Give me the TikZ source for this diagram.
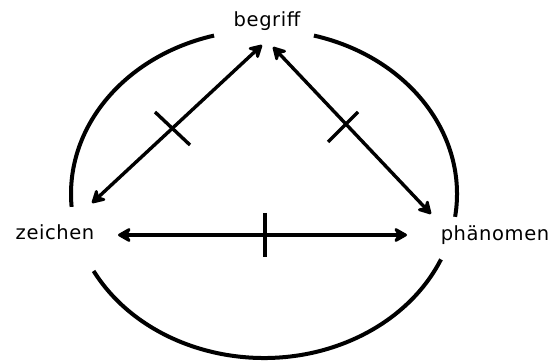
\documentclass[tikz,border=0pt]{standalone}
\usepackage{fontspec}
\setmainfont{DejaVu Sans}
\newfontfamily\lblfont[LetterSpace=3]{DejaVu Sans}
\usetikzlibrary{arrows.meta,calc}
\begin{document}
\begin{tikzpicture}[x=1pt,y=1pt,
  lbl/.style={font=\lblfont\fontsize{19.5}{22}\selectfont, text=black, inner sep=1pt},
  ring/.style={line width=4pt, line cap=butt},
  arr/.style={line width=3.4pt, {Stealth[length=16pt,width=18pt,round]}-{Stealth[length=16pt,width=18pt,round]}},
  tick/.style={line width=3.4pt}]
\useasboundingbox (0,0) rectangle (555,361);
% labels
\node[lbl] (begriff) at (267,340) {begriff};
\node[lbl] (zeichen) at (55,129) {zeichen};
\node[lbl] (phaenomen) at (495,126) {phänomen};
% ellipse arcs (centre 264,167; radii 193,164)
\coordinate (c) at (264,167);
\draw[ring] ($(c)+({193*cos(75)},{164*sin(75)})$) arc[start angle=75, end angle=-8, x radius=193, y radius=164];
\draw[ring] ($(c)+({193*cos(105)},{164*sin(105)})$) arc[start angle=105, end angle=184.5, x radius=193, y radius=164];
\draw[ring] ($(c)+({193*cos(208)},{164*sin(208)})$) arc[start angle=208, end angle=336.5, x radius=193, y radius=164];
% arrow ends
\coordinate (zb1) at (92,158);
\coordinate (zb2) at (262,316);
\coordinate (bp1) at (273,314);
\coordinate (bp2) at (431,147);
\coordinate (zp1) at (118,126);
\coordinate (zp2) at (407,126);
\draw[arr] (zb1) -- (zb2);
\draw[arr] (bp1) -- (bp2);
\draw[arr] (zp1) -- (zp2);
% cross ticks
\coordinate (t1a) at (155,249); \coordinate (t1b) at (190,216);
\coordinate (t2a) at (358,249); \coordinate (t2b) at (328,219);
\coordinate (t3a) at (265,148); \coordinate (t3b) at (265,104);
\draw[tick] (t1a) -- (t1b);
\draw[tick] (t2a) -- (t2b);
\draw[tick] (t3a) -- (t3b);
\end{tikzpicture}
\end{document}
